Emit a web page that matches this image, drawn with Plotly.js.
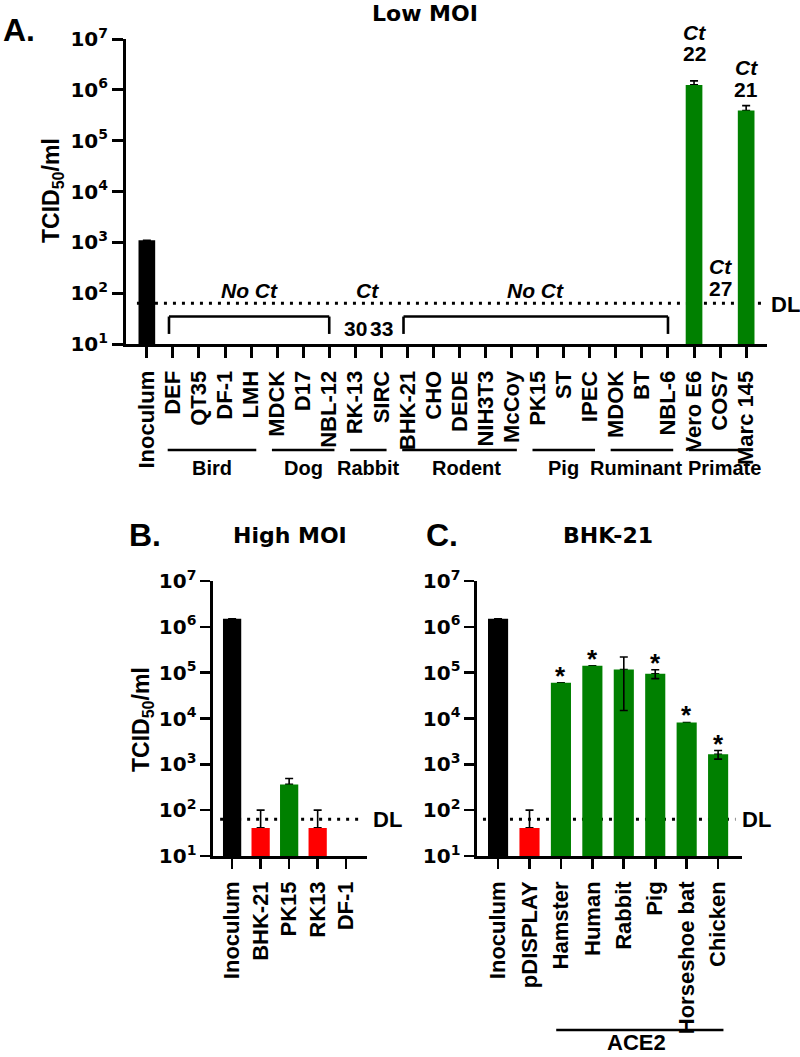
<!DOCTYPE html>
<html><head><meta charset="utf-8">
<script src="https://cdn.plot.ly/plotly-3.0.1.min.js"></script>
<style>html,body{margin:0;padding:0;background:#fff}#chart{width:800px;height:1057px}</style>
</head><body><div id="chart"></div>
<script>
// ---------------- DATA ----------------
const detectionLimit = 63;
const yExponents = [1, 2, 3, 4, 5, 6, 7];

// Panel A: Low MOI
const aCategories = ['Inoculum','DEF','QT35','DF-1','LMH','MDCK','D17','NBL-12','RK-13','SIRC','BHK-21','CHO','DEDE','NIH3T3','McCoy','PK15','ST','IPEC','MDOK','BT','NBL-6','Vero E6','COS7','Marc 145'];
const aValues = [1100, null,null,null,null,null,null,null,null,null,null,null,null,null,null,null,null,null,null,null,null, 1.25e6, null, 3.9e5];
const aErrPlus = [null, null,null,null,null,null,null,null,null,null,null,null,null,null,null,null,null,null,null,null,null, 2.5e5, null, 1.0e5];
const aCt = [null, null,null,null,null,null,null,null, 30, 33, null,null,null,null,null,null,null,null,null,null,null, 22, 27, 21];
const aGroups = ['Bird','Dog','Rabbit','Rodent','Pig','Ruminant','Primate'];
const aGroupFirst = ['DEF','MDCK','RK-13','BHK-21','PK15','MDOK','Vero E6'];
const aGroupLast = ['LMH','NBL-12','SIRC','McCoy','IPEC','NBL-6','Marc 145'];
const aNoCtFirst = ['DEF','BHK-21'];
const aNoCtLast = ['NBL-12','NBL-6'];

// Panel B: High MOI
const bCategories = ['Inoculum','BHK-21','PK15','RK13','DF-1'];
const bValues = [1.5e6, 41, 365, 41, null];
const bErrPlus = [null, 59, 125, 59, null];

// Panel C: BHK-21 with ACE2
const cCategories = ['Inoculum','pDISPLAY','Hamster','Human','Rabbit','Pig','Horseshoe bat','Chicken'];
const cValues = [1.5e6, 41, 6.0e4, 1.42e5, 1.17e5, 9.5e4, 8.2e3, 1.65e3];
const cErrPlus = [null, 59, null, null, 1.02e5, 2.1e4, null, 3.5e2];
const cErrMinus = [null, 0, null, null, 1.02e5, 2.1e4, null, 3.5e2];
const cSignificant = [false, false, true, true, false, true, true, true];
const cGroupLabel = 'ACE2';
const cGroupFirst = 'Hamster';
const cGroupLast = 'Chicken';

// ---------------- HELPERS ----------------
const W = 800, H = 1057;
const px = x => x / W;
const py = y => 1 - y / H;
const ARIAL = 'Arial, Liberation Sans, sans-serif';
const WIDE = 'DejaVu Sans, Verdana, sans-serif';
const BLACK = '#000000', GREEN = '#008000', RED = '#ff0000';

function colorFor(cat, v, i) {
  if (i === 0) return BLACK;
  return v < detectionLimit ? RED : GREEN;
}

function barTraces(xa, ya, cats, vals, errP, errM) {
  const x = cats.map((c, i) => i);
  const colors = vals.map((v, i) => colorFor(cats[i], v, i));
  const upperOnly = errP.map((e, i) => (e && !(errM && errM[i])) ? e : NaN);
  const bothP = errP.map((e, i) => (e && errM && errM[i]) ? e : NaN);
  const bothM = errP.map((e, i) => (e && errM && errM[i]) ? errM[i] : NaN);
  const under = {
    type: 'bar', x: x, y: vals, xaxis: xa, yaxis: ya, width: 0.64,
    marker: {color: 'rgba(0,0,0,0)', line: {width: 0}}, hoverinfo: 'skip', showlegend: false,
    error_y: {type: 'data', symmetric: false, array: upperOnly, arrayminus: x.map(() => 0),
              color: BLACK, thickness: 1.6, width: 4}
  };
  const over = {
    type: 'bar', x: x, y: vals, xaxis: xa, yaxis: ya, width: 0.64,
    marker: {color: colors, line: {width: 0}}, showlegend: false, hoverinfo: 'x+y',
    error_y: {type: 'data', symmetric: false, array: bothP, arrayminus: bothM,
              color: BLACK, thickness: 1.6, width: 4}
  };
  return [under, over];
}

const data = [
  ...barTraces('x', 'y', aCategories, aValues, aErrPlus, null),
  ...barTraces('x2', 'y2', bCategories, bValues, bErrPlus, null),
  ...barTraces('x3', 'y3', cCategories, cValues, cErrPlus, cErrMinus)
];

function yAxis(domain, anchor, lw, tl) {
  return {
    domain: domain, anchor: anchor, type: 'log', range: [1, 7],
    tickvals: yExponents.map(e => Math.pow(10, e)),
    ticktext: yExponents.map(e => '10<sup>' + e + '</sup>'),
    tickfont: {family: WIDE, size: 20, weight: 700, color: BLACK},
    showline: true, linecolor: BLACK, linewidth: lw, ticks: 'outside', ticklen: tl, tickwidth: lw,
    tickcolor: BLACK, showgrid: false, zeroline: false, fixedrange: true
  };
}
function xAxis(domain, anchor, cats, range, lw, tl) {
  return {
    domain: domain, anchor: anchor, range: range,
    tickvals: cats.map((c, i) => i), ticktext: cats, tickangle: -90,
    tickfont: {family: ARIAL, size: 22, weight: 700, color: BLACK},
    ticklabelstandoff: 4,
    showline: true, linecolor: BLACK, linewidth: lw, ticks: 'outside', ticklen: tl, tickwidth: lw,
    tickcolor: BLACK, showgrid: false, zeroline: false, fixedrange: true
  };
}

const annotations = [];
const shapes = [];
function fnt(size, fam) { return {family: fam || ARIAL, size: size, weight: 700, color: BLACK}; }
function txt(x, y, text, opts) {
  annotations.push(Object.assign({
    x: x, y: y, xref: 'paper', yref: 'paper', text: text, showarrow: false,
    xanchor: 'center', yanchor: 'middle', font: fnt(21)
  }, opts || {}));
}

// Titles and panel letters
txt(px(19), py(30), 'A.', {font: fnt(32)});
txt(px(425), py(14), 'Low MOI', {font: fnt(22, WIDE)});
txt(px(145), py(535), 'B.', {font: fnt(32)});
txt(px(290), py(535), 'High MOI', {font: fnt(22, WIDE)});
txt(px(442), py(535), 'C.', {font: fnt(32)});
txt(px(608), py(535), 'BHK-21', {font: fnt(22, WIDE)});

// Y axis titles
const yTitle = 'TCID<sub>50</sub>/ml';
txt(px(53), py(191), yTitle, {textangle: -90, font: fnt(23)});
txt(px(142), py(720), yTitle, {textangle: -90, font: fnt(23)});

// Detection limit lines (behind bars) and labels
const dlStyle = {color: BLACK, width: 3, dash: '3px,6px'};
shapes.push({type: 'line', xref: 'x', yref: 'y', x0: -0.38, x1: aCategories.length - 0.36, y0: detectionLimit, y1: detectionLimit, line: dlStyle, layer: 'below'});
shapes.push({type: 'line', xref: 'x2', yref: 'y2', x0: -0.42, x1: bCategories.length - 0.4, y0: detectionLimit, y1: detectionLimit, line: dlStyle, layer: 'below'});
shapes.push({type: 'line', xref: 'x3', yref: 'y3', x0: -0.48, x1: cCategories.length - 0.45, y0: detectionLimit, y1: detectionLimit, line: dlStyle, layer: 'below'});
txt(px(785), py(304), 'DL', {font: fnt(22)});
txt(px(387), py(819), 'DL', {font: fnt(22)});
txt(px(756), py(819), 'DL', {font: fnt(22)});

function dataTxt(xref, x, y, text, font, yanchor) {
  annotations.push({x: x, y: y, xref: xref, yref: 'paper', text: text, showarrow: false,
    xanchor: 'center', yanchor: yanchor || 'middle', font: font});
}

// Panel A brackets for "No Ct"
const lineStyle = {color: BLACK, width: 2.6};
aNoCtFirst.forEach((f, k) => {
  const i0 = aCategories.indexOf(f) - 0.15, i1 = aCategories.indexOf(aNoCtLast[k]);
  const top = 0.09, bot = 0.033;
  shapes.push({type: 'line', xref: 'x', yref: 'y domain', x0: i0, x1: i1, y0: top, y1: top, line: lineStyle});
  shapes.push({type: 'line', xref: 'x', yref: 'y domain', x0: i0, x1: i0, y0: top, y1: bot, line: lineStyle});
  shapes.push({type: 'line', xref: 'x', yref: 'y domain', x0: i1, x1: i1, y0: top, y1: bot, line: lineStyle});
  dataTxt('x', (i0 + i1) / 2, py(291), '<i>No Ct</i>', fnt(21));
});

// Ct values
const ctPos = {'RK-13': [null, 328], 'SIRC': [null, 328], 'Vero E6': [32, 53], 'COS7': [267, 288], 'Marc 145': [68, 89]};
aCt.forEach((v, i) => {
  if (v === null) return;
  const pos = ctPos[aCategories[i]];
  if (pos[0] !== null) dataTxt('x', i, py(pos[0]), '<i>Ct</i>', fnt(21));
  dataTxt('x', i, py(pos[1]), String(v), fnt(21));
});
dataTxt('x', (aCategories.indexOf('RK-13') + aCategories.indexOf('SIRC')) / 2 - 0.05, py(291), '<i>Ct</i>', fnt(21));

// Panel A species groups
const groupLabelShift = {'Rodent': 0.25, 'Ruminant': -0.2, 'Primate': 0.15};
aGroups.forEach((g, k) => {
  const i0 = aCategories.indexOf(aGroupFirst[k]), i1 = aCategories.indexOf(aGroupLast[k]);
  shapes.push({type: 'line', xref: 'x', yref: 'paper', x0: i0 - 0.2, x1: i1 + 0.2, y0: py(450), y1: py(450), line: lineStyle});
  dataTxt('x', (i0 + i1) / 2 + (groupLabelShift[g] || 0), py(468), g, fnt(20));
});

// Panel C ACE2 group
{
  const i0 = cCategories.indexOf(cGroupFirst), i1 = cCategories.indexOf(cGroupLast);
  shapes.push({type: 'line', xref: 'x3', yref: 'paper', x0: i0 - 0.15, x1: i1 + 0.17, y0: py(1030), y1: py(1030), line: lineStyle});
  dataTxt('x3', (i0 + i1) / 2 - 0.1, 0, cGroupLabel, fnt(22), 'bottom');
}

// Panel C significance stars
cSignificant.forEach((s, i) => {
  if (!s) return;
  const top = cValues[i] + (cErrPlus[i] || 0);
  annotations.push({x: i, y: Math.log10(top), xref: 'x3', yref: 'y3', text: '*', showarrow: false,
    xanchor: 'center', yanchor: 'middle', yshift: 7, font: fnt(26)});
});

const layout = {
  width: W, height: H, margin: {l: 0, r: 0, t: 0, b: 0},
  paper_bgcolor: '#ffffff', plot_bgcolor: 'rgba(0,0,0,0)',
  barmode: 'overlay', showlegend: false,
  font: {family: ARIAL, size: 20, weight: 700, color: BLACK},
  xaxis: xAxis([px(126), px(767)], 'y', aCategories, [-0.8, aCategories.length - 0.2], 3, 11),
  yaxis: yAxis([py(344), py(39)], 'x', 3, 11),
  xaxis2: xAxis([px(213), px(367)], 'y2', bCategories, [-0.67, bCategories.length - 0.27], 2.6, 10),
  yaxis2: yAxis([py(856), py(581)], 'x2', 2.6, 10),
  xaxis3: xAxis([px(477), px(742)], 'y3', cCategories, [-0.67, cCategories.length - 0.24], 2.6, 10),
  yaxis3: yAxis([py(856), py(581)], 'x3', 2.6, 10),
  annotations: annotations,
  shapes: shapes
};

Plotly.newPlot('chart', data, layout, {displayModeBar: false, staticPlot: true});
</script>
</body></html>
